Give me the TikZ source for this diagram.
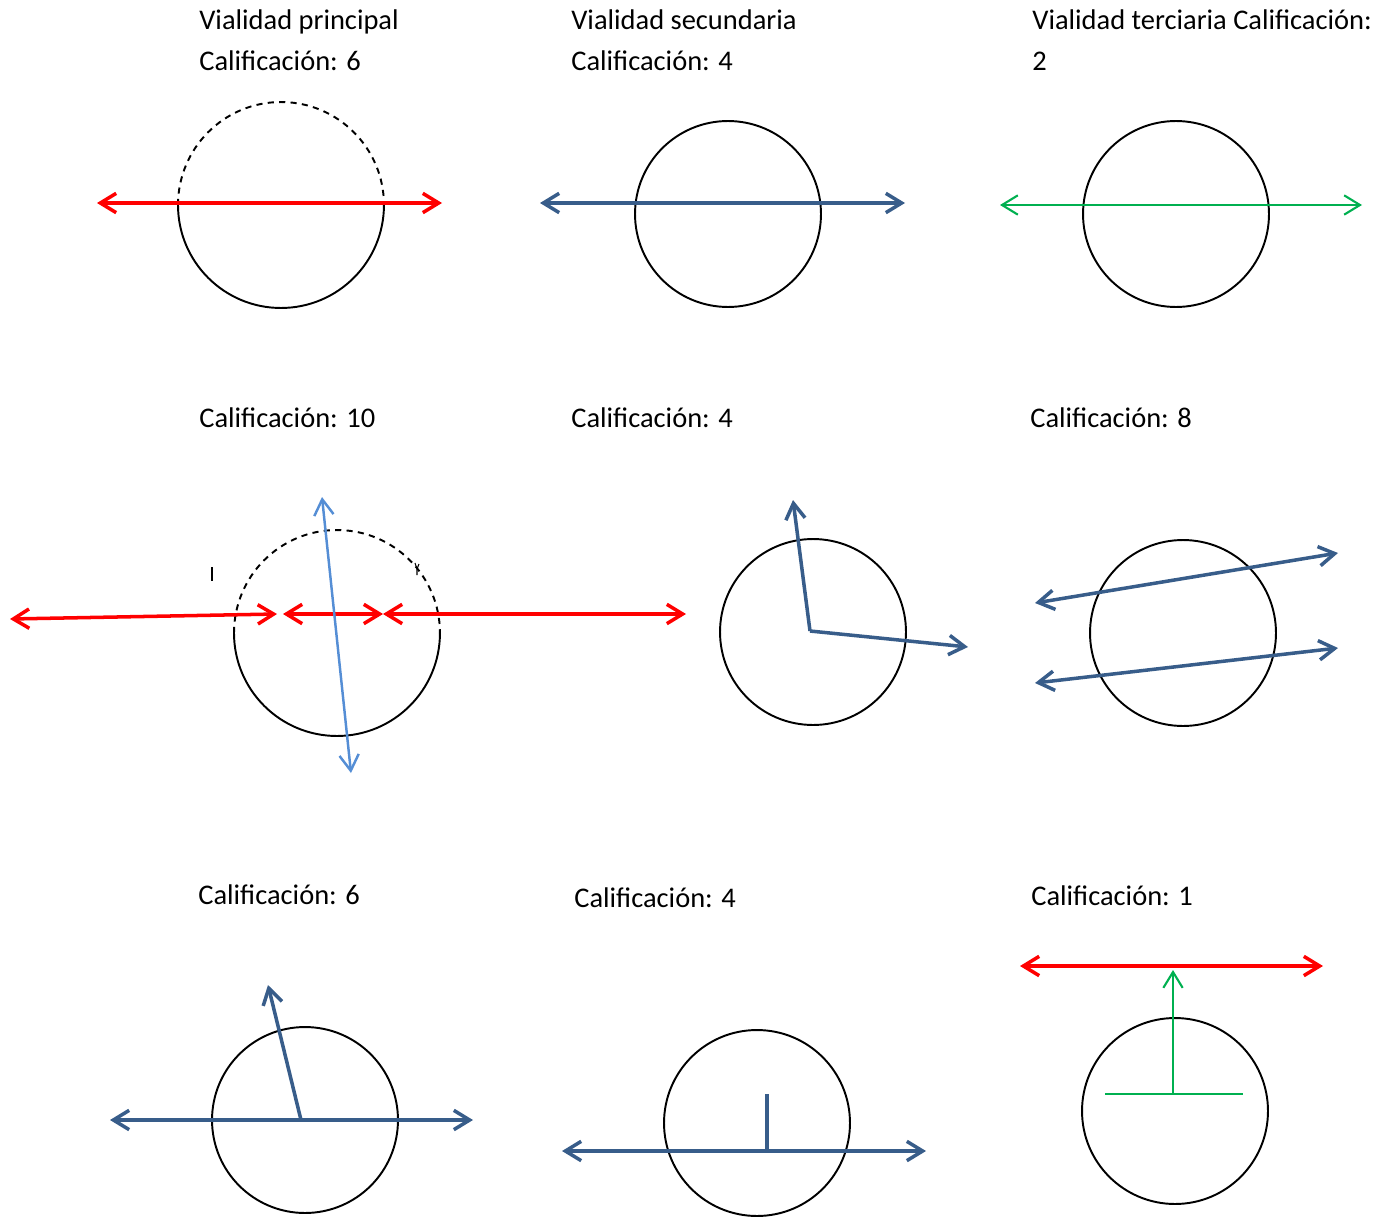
\documentclass[tikz,border=0pt]{standalone}
\usepackage{fontspec}
\setmainfont{Carlito}
\usetikzlibrary{arrows.meta}
\definecolor{mainroad}{HTML}{FF0000}
\definecolor{secroad}{HTML}{385D8A}
\definecolor{terroad}{HTML}{00B050}
\definecolor{paleroad}{HTML}{558ED5}

\begin{document}
\begin{tikzpicture}[x=0.02cm, y=-0.02cm, >={Straight Barb[length=9pt,width=11pt]},
    ring/.style={draw, circle, line width=1.1pt, minimum size=3.72cm, inner sep=0pt},
    rim/.style={line width=1.1pt},
    main/.style={mainroad, line width=2pt},
    sec/.style={secroad, line width=2pt},
    ter/.style={terroad, line width=1.2pt},
    pale/.style={paleroad, line width=1.4pt},
    lab/.style={anchor=base west, inner sep=0pt, font=\fontsize{16.2}{19}\selectfont}]
    \useasboundingbox (0,0) rectangle (1393,1217);
    % labels
    \node[lab] (t1a) at (199,30) {Vialidad principal};
    \node[lab] (t1b) at (199,71) {Calificación: 6};
    \node[lab] (t2a) at (571,30) {Vialidad secundaria};
    \node[lab] (t2b) at (571,71) {Calificación: 4};
    \node[lab] (t3a) at (1032,30) {Vialidad terciaria Calificación:};
    \node[lab] (t3b) at (1032,71) {2};
    \node[lab] (t4) at (199,427) {Calificación: 10};
    \node[lab] (t5) at (571,427) {Calificación: 4};
    \node[lab] (t6) at (1030,427) {Calificación: 8};
    \node[lab] (t7) at (198,904) {Calificación: 6};
    \node[lab] (t8) at (574,907) {Calificación: 4};
    \node[lab] (t9) at (1031,905) {Calificación: 1};
    % circles
    \foreach \name/\pos in {c2/{(728,214)}, c3/{(1176,214)}, c5/{(813,632)}, c6/{(1183,633)},
        c7/{(305,1120)}, c8/{(757,1123)}, c9/{(1175,1111)}}
      \node[ring] (\name) at \pos {};
    \foreach \cx/\cy in {281/205, 337/633}{
      \draw[rim, dash pattern=on 3.5pt off 3pt] (\cx-103,\cy) arc[start angle=180, end angle=0, radius=2.06cm];
      \draw[rim] (\cx-103,\cy) arc[start angle=180, end angle=360, radius=2.06cm];}
    % row 1
    \coordinate (a1l) at (97,203);   \coordinate (a1r) at (442,203);
    \coordinate (a2l) at (540,203);  \coordinate (a2r) at (905,203);
    \coordinate (a3l) at (1000,205); \coordinate (a3r) at (1362,205);
    \draw[main, <->] (a1l) -- (a1r);
    \draw[sec, <->] (a2l) -- (a2r);
    \draw[ter, <->] (a3l) -- (a3r);
    % row 2
    \coordinate (r1) at (10,619);  \coordinate (r2) at (277,614);
    \coordinate (r3) at (283,614); \coordinate (r4) at (383,614);
    \coordinate (r5) at (686,614);
    \draw[main, <->] (r1) -- (r2);
    \draw[main, <->] (r3) -- (r4);
    \draw[main, <->] (r4) -- (r5);
    \coordinate (p1) at (322,497); \coordinate (p2) at (351,773);
    \draw[pale, <->] (p1) -- (p2);
    \draw[line width=0.8pt] (212,567) -- (212,581);
    \draw[line width=0.6pt] (415,563) -- (417,569) -- (419,564) (417,569) -- (417,575);
    \coordinate (o5) at (810,631);
    \coordinate (q1) at (793,500); \coordinate (q2) at (968,647);
    \draw[sec, ->] (o5) -- (q1);
    \draw[sec, ->] (o5) -- (q2);
    \coordinate (s1l) at (1035,603); \coordinate (s1r) at (1338,553);
    \coordinate (s2l) at (1035,683); \coordinate (s2r) at (1338,648);
    \draw[sec, <->] (s1l) -- (s1r);
    \draw[sec, <->] (s2l) -- (s2r);
    % row 3
    \coordinate (b7l) at (110,1120); \coordinate (b7r) at (473,1120);
    \coordinate (o7) at (301,1120);  \coordinate (u7) at (268,985);
    \draw[sec, <->] (b7l) -- (b7r);
    \draw[sec, ->] (o7) -- (u7);
    \coordinate (b8l) at (562,1151); \coordinate (b8r) at (926,1151);
    \coordinate (o8) at (767,1151);  \coordinate (u8) at (767,1094);
    \draw[sec, <->] (b8l) -- (b8r);
    \draw[sec] (o8) -- (u8);
    \coordinate (b9l) at (1020,966); \coordinate (b9r) at (1323,966);
    \coordinate (o9) at (1173,1094); \coordinate (u9) at (1173,970);
    \coordinate (h9l) at (1105,1094); \coordinate (h9r) at (1243,1094);
    \draw[main, <->] (b9l) -- (b9r);
    \draw[ter, ->] (o9) -- (u9);
    \draw[ter] (h9l) -- (h9r);
  \end{tikzpicture}
\end{document}
